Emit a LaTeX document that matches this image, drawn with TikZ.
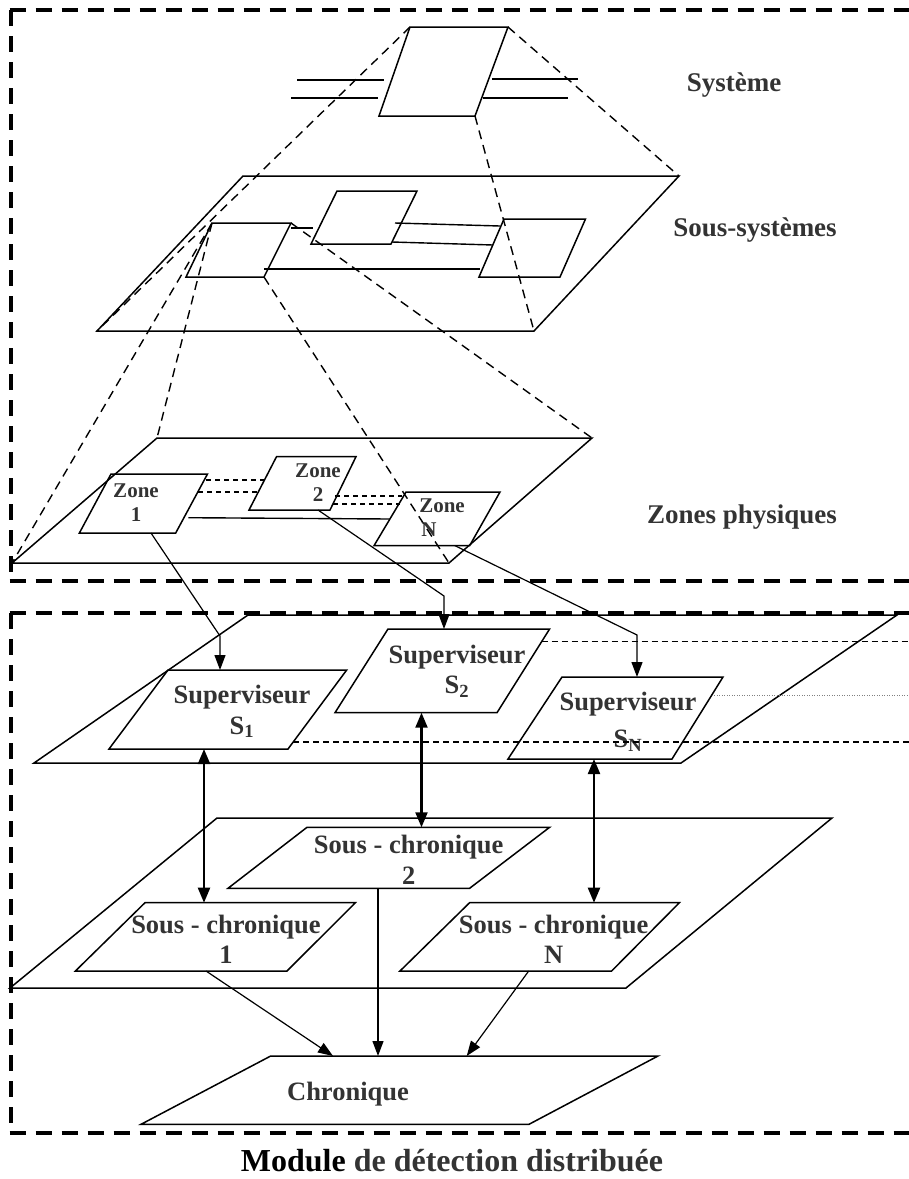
\documentclass[tikz,border=0pt]{standalone}
\usepackage{fontspec}
\setmainfont{Liberation Serif}
\usetikzlibrary{arrows.meta}
\definecolor{txt}{RGB}{51,51,51}
% parallelogram: name, top-left x, top-right x, top y, bottom-left x, bottom-right x, bottom y
\newcommand\pgram[7]{%
  \coordinate (#1-tl) at (#2,#4);
  \coordinate (#1-tr) at (#3,#4);
  \coordinate (#1-br) at (#6,#7);
  \coordinate (#1-bl) at (#5,#7);
  \draw[box] (#1-tl) -- (#1-tr) -- (#1-br) -- (#1-bl) -- cycle;}
\begin{document}
\begin{tikzpicture}[x=1pt,y=-1pt,
  box/.style={line width=1.5pt, line join=miter},
  frame/.style={line width=3.5pt, dash pattern=on 16pt off 10pt},
  proj/.style={line width=1.4pt, dash pattern=on 9pt off 6pt},
  link/.style={line width=1.4pt},
  zlink/.style={line width=1.5pt, dash pattern=on 5pt off 4pt},
  side/.style={line width=1.3pt, dash pattern=on 6pt off 4pt},
  dots/.style={line width=0.6pt, gray, dash pattern=on 1pt off 1.5pt},
  arr/.style={line width=1.2pt, -{Triangle[length=15pt,width=11pt]}},
  barr/.style={line width=2.2pt, {Triangle[length=15pt,width=12pt]}-{Triangle[length=15pt,width=12pt]}},
  lbl/.style={font=\fontsize{27}{32}\selectfont\bfseries, text=txt, anchor=base, inner sep=0pt},
  btxt/.style={font=\fontsize{26.5}{30.5}\selectfont\bfseries, text=txt, align=center, anchor=base, inner sep=0pt},
  ztxt/.style={font=\fontsize{21}{24.5}\selectfont\bfseries, text=txt, align=center, anchor=base, inner sep=0pt},
]
\useasboundingbox (0,0) rectangle (909,1179);

% dashed frames
\draw[frame] (9.5,10) -- (909,10);
\draw[frame] (11,10) -- (11,581);
\draw[frame] (9.5,581) -- (909,581);
\draw[frame] (9.5,613) -- (909,613);
\draw[frame] (11,613) -- (11,1133);
\draw[frame] (9.5,1133) -- (909,1133);

% ---------- Système ----------
\pgram{sys}{410}{508}{27}{379}{475}{116}
\coordinate (il1) at (297,80);  \coordinate (il1e) at (384,80);
\coordinate (il2) at (291,98);  \coordinate (il2e) at (378,98);
\coordinate (ol1) at (492,79);  \coordinate (ol1e) at (578,79);
\coordinate (ol2) at (483,98);  \coordinate (ol2e) at (568,98);
\draw[link] (il1) -- (il1e);
\draw[link] (il2) -- (il2e);
\draw[link] (ol1) -- (ol1e);
\draw[link] (ol2) -- (ol2e);

% ---------- Sous-systèmes ----------
\pgram{ssp}{243}{679}{176}{97}{534}{331}
\pgram{sa}{212}{291}{223}{186}{264}{277}
\pgram{sb}{337}{417}{191}{311}{391}{244}
\pgram{sc}{504}{585.5}{219}{479}{560}{277}
\coordinate (ab1) at (291,228); \coordinate (ab2) at (313,228);
\coordinate (bc1) at (395,223); \coordinate (bc2) at (500,226);
\coordinate (bc3) at (392,242); \coordinate (bc4) at (493,245);
\coordinate (ac1) at (264,269); \coordinate (ac2) at (480,269);
\draw[link] (ab1) -- (ab2);
\draw[link] (bc1) -- (bc2);
\draw[link] (bc3) -- (bc4);
\draw[link] (ac1) -- (ac2);

\draw[proj] (sys-tl) -- (ssp-bl);
\draw[proj] (sys-tr) -- (ssp-tr);
\draw[proj] (sys-br) -- (ssp-br);

% ---------- Zones physiques ----------
\pgram{zp}{157}{592}{438}{12}{449}{563}
\pgram{z1}{111}{207.5}{474}{79.4}{175.7}{533}
\pgram{z2}{276.5}{356}{456.7}{249}{330}{510}
\pgram{zn}{406}{500}{492}{374}{469.6}{545.7}

\draw[proj] (sa-tl) -- (zp-bl);
\draw[proj] (sa-tl) -- (zp-tl);
\draw[proj] (sa-br) -- (zp-br);
\draw[proj] (sa-tr) -- (zp-tr);

\coordinate (z12a) at (206,480); \coordinate (z12b) at (268,480);
\coordinate (z12c) at (198,492); \coordinate (z12d) at (260,492);
\coordinate (z2na) at (335,496); \coordinate (z2nb) at (402,496);
\coordinate (z2nc) at (333,504); \coordinate (z2nd) at (400,504);
\coordinate (z1na) at (188.4,517.7); \coordinate (z1nb) at (389.6,519);
\draw[zlink] (z12a) -- (z12b);
\draw[zlink] (z12c) -- (z12d);
\draw[zlink] (z2na) -- (z2nb);
\draw[zlink] (z2nc) -- (z2nd);
\draw[link] (z1na) -- (z1nb);

% (anchor=base of a two-line node is the baseline of its last line)
\node[ztxt] (tz1) at (136,521.7) {Zone\\1};
\node[ztxt] (tz2) at (318,501.7) {Zone\\2};
\node[ztxt] (tzn) at (442,536.5) {Zone\\N\hspace*{26pt}};

% ---------- Superviseurs ----------
\pgram{sp}{248}{897}{615}{34}{681}{763}
\pgram{s1}{168}{346.7}{670}{109}{288}{749}
\pgram{s2}{388}{549.6}{629}{335}{497}{712.7}
\pgram{sN}{562}{723}{677}{508}{672}{759}

\node[btxt] (ts1) at (242,734) {Superviseur\\S\textsubscript{1}};
\node[btxt] (ts2) at (457,693.5) {Superviseur\\S\textsubscript{2}};
\node[btxt] (tsn) at (628,747.5) {Superviseur\\[7pt]S\textsubscript{N}};

\coordinate (s2r) at (541.6,641.7); \coordinate (s2re) at (909,641.7);
\coordinate (snr) at (711.8,695);   \coordinate (snre) at (909,695);
\coordinate (s1r) at (293,742);     \coordinate (s1re) at (909,742);
\draw[side] (s2r) -- (s2re);
\draw[dots] (snr) -- (snre);
\draw[side] (s1r) -- (s1re);

% zone -> superviseur arrows
\coordinate (z1o) at (151,533); \coordinate (k1) at (220,636); \coordinate (s1i) at (220,670);
\coordinate (z2o) at (318,510); \coordinate (k2) at (444,596); \coordinate (s2i) at (444,629);
\coordinate (zno) at (455,545.7); \coordinate (kn) at (637,635); \coordinate (sni) at (637,677);
\draw[arr] (z1o) -- (k1) -- (s1i);
\draw[arr] (z2o) -- (k2) -- (s2i);
\draw[arr] (zno) -- (kn) -- (sni);

% ---------- Sous-chroniques ----------
\pgram{cp}{217}{832}{818}{10}{626}{988}
\pgram{c1}{145}{355.4}{902.7}{75.4}{287}{971}
\pgram{c2}{307}{549.6}{827.3}{228}{469.6}{888.3}
\pgram{cN}{469.6}{679.4}{902.7}{400}{611.6}{971}

\node[btxt] (tc2) at (408.7,884) {Sous - chronique\\2};
\node[btxt] (tc1) at (226,963.5) {Sous - chronique\\1};
\node[btxt] (tcn) at (553.6,963.5) {Sous - chronique\\N};

\coordinate (b1a) at (204,749);   \coordinate (b1b) at (204,902.7);
\coordinate (b2a) at (421.5,712.7); \coordinate (b2b) at (421.5,827.3);
\coordinate (bna) at (594,759);   \coordinate (bnb) at (594,902.7);
\draw[barr] (b1a) -- (b1b);
\draw[barr] (b2a) -- (b2b);
\draw[barr] (bna) -- (bnb);

% ---------- Chronique ----------
\pgram{ch}{270.7}{658}{1056}{141}{529}{1124.3}
\node[btxt] (tch) at (348,1100) {Chronique};

\coordinate (c1o) at (206,971);   \coordinate (ch1) at (333,1056);
\coordinate (c2o) at (378,888.3); \coordinate (ch2) at (378,1056);
\coordinate (cno) at (528.7,971); \coordinate (ch3) at (466.7,1056);
\draw[arr] (c1o) -- (ch1);
\draw[arr] (c2o) -- (ch2);
\draw[arr] (cno) -- (ch3);

% ---------- labels ----------
\node[lbl] (tsys) at (734,91) {Système};
\node[lbl] (tss) at (755,236) {Sous-systèmes};
\node[lbl] (tzp) at (742,523) {Zones physiques};
\node[lbl, font=\fontsize{32}{36}\selectfont\bfseries] (cap) at (452,1171) {{\color{black}Module} de détection distribuée};
\end{tikzpicture}
\end{document}
